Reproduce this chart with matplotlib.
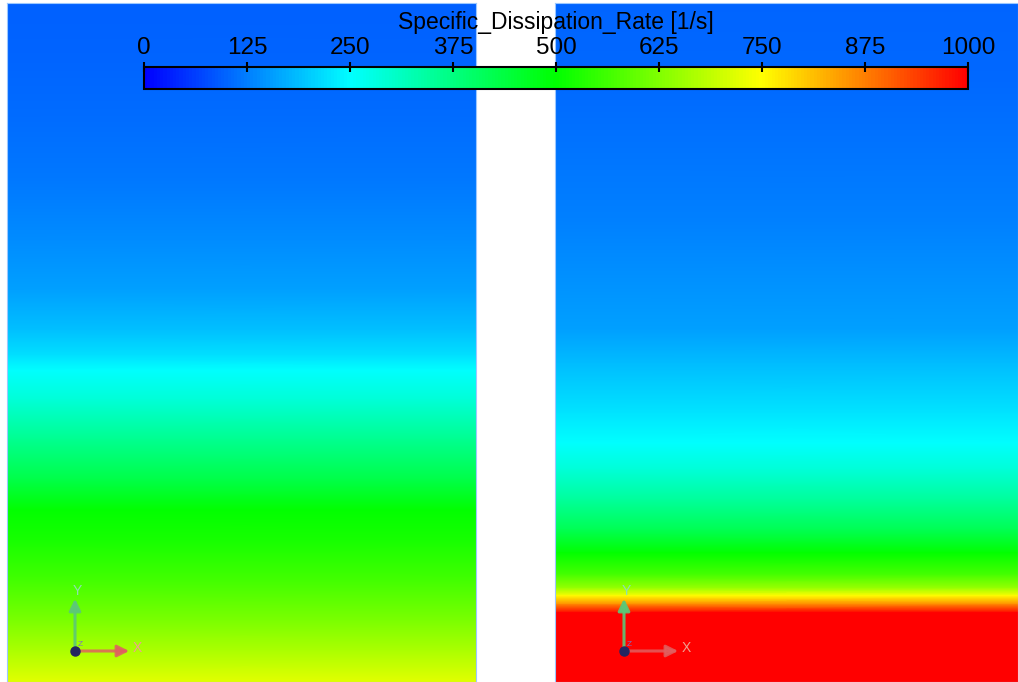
import numpy as np
import matplotlib
matplotlib.use('Agg')
import matplotlib.pyplot as plt
from matplotlib.colors import LinearSegmentedColormap, Normalize
from matplotlib.cm import ScalarMappable
from matplotlib.patches import FancyArrowPatch
from matplotlib.lines import Line2D

plt.rcParams['font.family'] = ['Liberation Sans', 'DejaVu Sans']

# colour scale
vmin, vmax = 0, 1000
tick_values = [0, 125, 250, 375, 500, 625, 750, 875, 1000]
cbar_title = 'Specific_Dissipation_Rate [1/s]'

# vertical profiles, depth measured from the top of each panel (0 = top, 1 = bottom)
left_depth = [0.0, 0.084, 0.172, 0.261, 0.35, 0.423, 0.482, 0.519, 0.541,
              0.585, 0.644, 0.703, 0.747, 0.791, 0.85, 0.909, 0.953, 1.0]
left_omega = [95, 100, 108, 120, 138, 160, 190, 220, 250,
              290, 360, 430, 500, 520, 565, 620, 665, 720]

right_depth = [0.0, 0.113, 0.217, 0.32, 0.423, 0.482, 0.53, 0.604, 0.648,
               0.688, 0.732, 0.776, 0.810, 0.842, 0.862, 0.873, 0.886, 0.898, 1.0]
right_omega = [100, 105, 115, 128, 145, 157, 186, 225, 250,
               290, 350, 420, 500, 570, 650, 750, 870, 1000, 1000]

cmap = LinearSegmentedColormap.from_list(
    'ansys', [(0, 0, 1), (0, 1, 1), (0, 1, 0), (1, 1, 0), (1, 0, 0)])
norm = Normalize(vmin, vmax)

W, H = 1018, 682
fig = plt.figure(figsize=(W / 100, H / 100), dpi=100)


def px_axes(x0, y0, x1, y1):
    return fig.add_axes([x0 / W, 1 - y1 / H, (x1 - x0) / W, (y1 - y0) / H])


def draw_panel(ax, depth, omega):
    d = np.array(depth)
    z = np.column_stack([omega, omega])
    X, Y = np.meshgrid([0, 1], d)
    ax.pcolormesh(X, Y, z, cmap=cmap, norm=norm, shading='gouraud')
    ax.set_xlim(0, 1)
    ax.set_ylim(1, 0)
    ax.set_xticks([])
    ax.set_yticks([])
    for s in ax.spines.values():
        s.set_color('#9cc8ff')
        s.set_linewidth(0.8)


axL = px_axes(7, 3, 476, 682)
draw_panel(axL, left_depth, left_omega)
axR = px_axes(555, 3, 1018, 682)
draw_panel(axR, right_depth, right_omega)


def f(x, y):
    return (x / W, 1 - y / H)


def triad(ox, oy):
    # small axis triad, pixel coordinates
    fig.add_artist(FancyArrowPatch(
        f(ox, oy), f(ox, oy - 55), transform=fig.transFigure,
        arrowstyle='-|>,head_length=7,head_width=3.5', color='#5cc878', lw=2.2, alpha=0.9))
    fig.add_artist(FancyArrowPatch(
        f(ox, oy), f(ox + 57, oy), transform=fig.transFigure,
        arrowstyle='-|>,head_length=7,head_width=3.5', color='#e06060', lw=2.2, alpha=0.85))
    fig.text(*f(ox + 2, oy - 60), 'Y', color='#8ee0b0', fontsize=10, ha='center', va='center')
    fig.text(*f(ox + 62, oy - 3), 'X', color='#f0a090', fontsize=10, ha='center', va='center')
    fig.text(*f(ox + 5, oy - 6), 'Z', color='#8070c0', fontsize=6, ha='center', va='center')
    fig.add_artist(Line2D([ox / W], [1 - oy / H], transform=fig.transFigure, marker='o',
                          markersize=6.5, color='#252560', zorder=5))


triad(75, 651)
triad(624, 651)

# colour bar
cax = px_axes(144, 67, 968, 89)
cb = fig.colorbar(ScalarMappable(norm=norm, cmap=cmap), cax=cax, orientation='horizontal')
cb.set_ticks(tick_values)
cb.ax.xaxis.set_ticks_position('top')
cb.ax.tick_params(direction='inout', length=7, width=1.5, labelsize=17.5, pad=2.5, colors='black')
cb.outline.set_linewidth(1.5)
fig.text(556 / W, 1 - 22 / H, cbar_title, fontsize=16.5, ha='center', va='center')

fig.savefig('out.png', dpi=100, facecolor='white')
